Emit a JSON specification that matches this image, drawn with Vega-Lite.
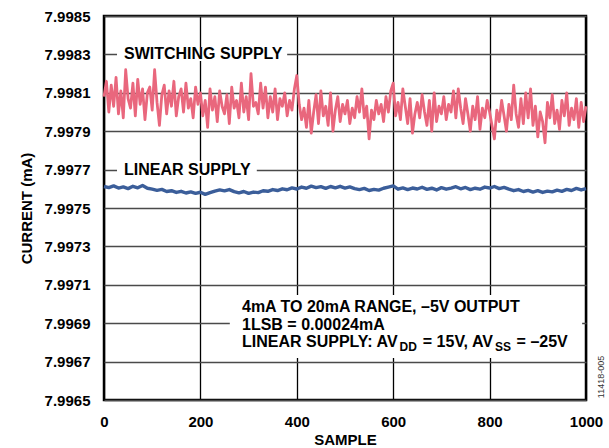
{
  "$schema": "https://vega.github.io/schema/vega-lite/v6.json",
  "width": 482,
  "height": 384,
  "autosize": "none",
  "padding": {"left": 104, "top": 16, "right": 23, "bottom": 48},
  "background": "white",
  "datasets": {
    "switching": [
      {"sample":0,"current":7.99808},{"sample":5,"current":7.99816},{"sample":10,"current":7.998},{"sample":15,"current":7.99814},
      {"sample":20,"current":7.99803},{"sample":25,"current":7.99818},{"sample":30,"current":7.99799},{"sample":35,"current":7.99811},
      {"sample":40,"current":7.99797},{"sample":45,"current":7.99822},{"sample":50,"current":7.99807},{"sample":55,"current":7.99802},
      {"sample":60,"current":7.99815},{"sample":65,"current":7.99798},{"sample":70,"current":7.99817},{"sample":75,"current":7.99804},
      {"sample":80,"current":7.99812},{"sample":85,"current":7.99796},{"sample":90,"current":7.9981},{"sample":95,"current":7.99813},
      {"sample":100,"current":7.99801},{"sample":105,"current":7.99822},{"sample":110,"current":7.99805},{"sample":115,"current":7.99793},
      {"sample":120,"current":7.99809},{"sample":125,"current":7.99814},{"sample":130,"current":7.99799},{"sample":135,"current":7.99811},
      {"sample":140,"current":7.99803},{"sample":145,"current":7.99816},{"sample":150,"current":7.99798},{"sample":155,"current":7.99808},
      {"sample":160,"current":7.99812},{"sample":165,"current":7.998},{"sample":170,"current":7.99815},{"sample":175,"current":7.99802},
      {"sample":180,"current":7.99807},{"sample":185,"current":7.99797},{"sample":190,"current":7.99813},{"sample":195,"current":7.99804},
      {"sample":200,"current":7.9981},{"sample":205,"current":7.99798},{"sample":210,"current":7.99806},{"sample":215,"current":7.99792},
      {"sample":220,"current":7.99812},{"sample":225,"current":7.99801},{"sample":230,"current":7.99808},{"sample":235,"current":7.99795},
      {"sample":240,"current":7.99811},{"sample":245,"current":7.99803},{"sample":250,"current":7.99799},{"sample":255,"current":7.99809},
      {"sample":260,"current":7.99794},{"sample":265,"current":7.99813},{"sample":270,"current":7.99802},{"sample":275,"current":7.99806},
      {"sample":280,"current":7.99797},{"sample":285,"current":7.99815},{"sample":290,"current":7.998},{"sample":295,"current":7.99808},
      {"sample":300,"current":7.99796},{"sample":305,"current":7.9982},{"sample":310,"current":7.99803},{"sample":315,"current":7.99805},
      {"sample":320,"current":7.99799},{"sample":325,"current":7.99815},{"sample":330,"current":7.99802},{"sample":335,"current":7.99813},
      {"sample":340,"current":7.99797},{"sample":345,"current":7.99808},{"sample":350,"current":7.998},{"sample":355,"current":7.99812},
      {"sample":360,"current":7.99796},{"sample":365,"current":7.99807},{"sample":370,"current":7.99803},{"sample":375,"current":7.9981},
      {"sample":380,"current":7.99798},{"sample":385,"current":7.99806},{"sample":390,"current":7.99801},{"sample":395,"current":7.99812},
      {"sample":400,"current":7.99819},{"sample":405,"current":7.99804},{"sample":410,"current":7.99796},{"sample":415,"current":7.99802},
      {"sample":420,"current":7.99792},{"sample":425,"current":7.99806},{"sample":430,"current":7.99789},{"sample":435,"current":7.998},
      {"sample":440,"current":7.99809},{"sample":445,"current":7.99794},{"sample":450,"current":7.99811},{"sample":455,"current":7.99798},
      {"sample":460,"current":7.99803},{"sample":465,"current":7.99793},{"sample":470,"current":7.9981},{"sample":475,"current":7.9979},
      {"sample":480,"current":7.99801},{"sample":485,"current":7.99808},{"sample":490,"current":7.99795},{"sample":495,"current":7.99804},
      {"sample":500,"current":7.99799},{"sample":505,"current":7.99806},{"sample":510,"current":7.99794},{"sample":515,"current":7.99802},
      {"sample":520,"current":7.99797},{"sample":525,"current":7.99808},{"sample":530,"current":7.998},{"sample":535,"current":7.99812},
      {"sample":540,"current":7.99797},{"sample":545,"current":7.99803},{"sample":550,"current":7.99786},{"sample":555,"current":7.99801},
      {"sample":560,"current":7.99796},{"sample":565,"current":7.99806},{"sample":570,"current":7.99799},{"sample":575,"current":7.99804},
      {"sample":580,"current":7.99795},{"sample":585,"current":7.99808},{"sample":590,"current":7.998},{"sample":595,"current":7.99811},
      {"sample":600,"current":7.99815},{"sample":605,"current":7.99798},{"sample":610,"current":7.99805},{"sample":615,"current":7.99796},
      {"sample":620,"current":7.99812},{"sample":625,"current":7.99803},{"sample":630,"current":7.99794},{"sample":635,"current":7.99807},
      {"sample":640,"current":7.99789},{"sample":645,"current":7.99799},{"sample":650,"current":7.99805},{"sample":655,"current":7.99797},
      {"sample":660,"current":7.99809},{"sample":665,"current":7.998},{"sample":670,"current":7.99793},{"sample":675,"current":7.99806},
      {"sample":680,"current":7.9979},{"sample":685,"current":7.9981},{"sample":690,"current":7.99795},{"sample":695,"current":7.99803},
      {"sample":700,"current":7.99799},{"sample":705,"current":7.99808},{"sample":710,"current":7.99796},{"sample":715,"current":7.99804},
      {"sample":720,"current":7.998},{"sample":725,"current":7.99811},{"sample":730,"current":7.99797},{"sample":735,"current":7.99812},
      {"sample":740,"current":7.99802},{"sample":745,"current":7.99794},{"sample":750,"current":7.99807},{"sample":755,"current":7.99799},
      {"sample":760,"current":7.9979},{"sample":765,"current":7.99803},{"sample":770,"current":7.99796},{"sample":775,"current":7.99808},
      {"sample":780,"current":7.99791},{"sample":785,"current":7.99802},{"sample":790,"current":7.99797},{"sample":795,"current":7.99806},
      {"sample":800,"current":7.998},{"sample":805,"current":7.99793},{"sample":810,"current":7.99786},{"sample":815,"current":7.99801},
      {"sample":820,"current":7.99795},{"sample":825,"current":7.99806},{"sample":830,"current":7.99798},{"sample":835,"current":7.9979},
      {"sample":840,"current":7.99804},{"sample":845,"current":7.99796},{"sample":850,"current":7.99814},{"sample":855,"current":7.99799},
      {"sample":860,"current":7.99792},{"sample":865,"current":7.99807},{"sample":870,"current":7.99794},{"sample":875,"current":7.9981},
      {"sample":880,"current":7.99797},{"sample":885,"current":7.99812},{"sample":890,"current":7.99793},{"sample":895,"current":7.99803},
      {"sample":900,"current":7.99787},{"sample":905,"current":7.998},{"sample":910,"current":7.99795},{"sample":915,"current":7.99784},
      {"sample":920,"current":7.99805},{"sample":925,"current":7.99797},{"sample":930,"current":7.99809},{"sample":935,"current":7.99794},
      {"sample":940,"current":7.99801},{"sample":945,"current":7.99791},{"sample":950,"current":7.99806},{"sample":955,"current":7.99798},
      {"sample":960,"current":7.9981},{"sample":965,"current":7.99793},{"sample":970,"current":7.99802},{"sample":975,"current":7.99796},
      {"sample":980,"current":7.99807},{"sample":985,"current":7.99792},{"sample":990,"current":7.99805},{"sample":995,"current":7.99795},
      {"sample":1000,"current":7.99803}
    ],
    "linear": [
      {"sample":0,"current":7.997612},{"sample":10,"current":7.997606},{"sample":20,"current":7.997615},{"sample":30,"current":7.997604},
      {"sample":40,"current":7.99761},{"sample":50,"current":7.997601},{"sample":60,"current":7.997613},{"sample":70,"current":7.997605},
      {"sample":80,"current":7.997617},{"sample":90,"current":7.997603},{"sample":100,"current":7.997598},{"sample":110,"current":7.997592},
      {"sample":120,"current":7.997597},{"sample":130,"current":7.997586},{"sample":140,"current":7.99759},{"sample":150,"current":7.997581},
      {"sample":160,"current":7.997587},{"sample":170,"current":7.997578},{"sample":180,"current":7.997584},{"sample":190,"current":7.997576},
      {"sample":200,"current":7.997582},{"sample":210,"current":7.997571},{"sample":220,"current":7.99758},{"sample":230,"current":7.997588},
      {"sample":240,"current":7.997594},{"sample":250,"current":7.997589},{"sample":260,"current":7.997596},{"sample":270,"current":7.997585},
      {"sample":280,"current":7.997579},{"sample":290,"current":7.997586},{"sample":300,"current":7.997576},{"sample":310,"current":7.997583},
      {"sample":320,"current":7.99758},{"sample":330,"current":7.99759},{"sample":340,"current":7.997587},{"sample":350,"current":7.997596},
      {"sample":360,"current":7.997591},{"sample":370,"current":7.9976},{"sample":380,"current":7.997595},{"sample":390,"current":7.997605},
      {"sample":400,"current":7.997599},{"sample":410,"current":7.997609},{"sample":420,"current":7.997603},{"sample":430,"current":7.997614},
      {"sample":440,"current":7.997606},{"sample":450,"current":7.997611},{"sample":460,"current":7.997602},{"sample":470,"current":7.997612},
      {"sample":480,"current":7.997605},{"sample":490,"current":7.997613},{"sample":500,"current":7.997604},{"sample":510,"current":7.99761},
      {"sample":520,"current":7.997601},{"sample":530,"current":7.997596},{"sample":540,"current":7.997602},{"sample":550,"current":7.997591},
      {"sample":560,"current":7.997597},{"sample":570,"current":7.997593},{"sample":580,"current":7.997603},{"sample":590,"current":7.997609},
      {"sample":600,"current":7.997615},{"sample":610,"current":7.997598},{"sample":620,"current":7.997605},{"sample":630,"current":7.997596},
      {"sample":640,"current":7.997604},{"sample":650,"current":7.997599},{"sample":660,"current":7.997608},{"sample":670,"current":7.997597},
      {"sample":680,"current":7.997603},{"sample":690,"current":7.997594},{"sample":700,"current":7.997606},{"sample":710,"current":7.997598},
      {"sample":720,"current":7.997604},{"sample":730,"current":7.997611},{"sample":740,"current":7.9976},{"sample":750,"current":7.997607},
      {"sample":760,"current":7.997596},{"sample":770,"current":7.997603},{"sample":780,"current":7.997598},{"sample":790,"current":7.997609},
      {"sample":800,"current":7.997604},{"sample":810,"current":7.997612},{"sample":820,"current":7.997601},{"sample":830,"current":7.997607},
      {"sample":840,"current":7.997598},{"sample":850,"current":7.99759},{"sample":860,"current":7.997596},{"sample":870,"current":7.997586},
      {"sample":880,"current":7.997592},{"sample":890,"current":7.997583},{"sample":900,"current":7.99759},{"sample":910,"current":7.997581},
      {"sample":920,"current":7.997588},{"sample":930,"current":7.997584},{"sample":940,"current":7.997593},{"sample":950,"current":7.997587},
      {"sample":960,"current":7.997597},{"sample":970,"current":7.997591},{"sample":980,"current":7.997602},{"sample":990,"current":7.997594},
      {"sample":1000,"current":7.997601}
    ]
  },
  "layer": [
    {
      "data": {"name": "switching"},
      "mark": {"type": "line", "color": "#E9677D", "strokeWidth": 2.8, "strokeJoin": "round"},
      "encoding": {
        "x": {
          "field": "sample", "type": "quantitative",
          "scale": {"domain": [0, 1000], "nice": false},
          "axis": {"title": "SAMPLE", "values": [0, 200, 400, 600, 800, 1000], "tickCount": 20, "format": "d", "gridColor": "#000000"}
        },
        "y": {
          "field": "current", "type": "quantitative",
          "scale": {"domain": [7.9965, 7.9985], "nice": false, "zero": false},
          "axis": {
            "title": "CURRENT (mA)",
            "values": [7.9965, 7.9967, 7.9969, 7.9971, 7.9973, 7.9975, 7.9977, 7.9979, 7.9981, 7.9983, 7.9985],
            "tickCount": 20,
            "format": ".4f", "gridColor": "#4a4a4a"
          }
        }
      }
    },
    {
      "data": {"name": "linear"},
      "mark": {"type": "line", "color": "#3B5E9A", "strokeWidth": 3.4, "strokeJoin": "round"},
      "encoding": {
        "x": {"field": "sample", "type": "quantitative"},
        "y": {"field": "current", "type": "quantitative"}
      }
    },
    {
      "data": {"values": [{}]},
      "mark": {"type": "rect", "fill": "white"},
      "encoding": {
        "x": {"datum": 27}, "x2": {"datum": 380},
        "y": {"datum": 7.998339}, "y2": {"datum": 7.998266}
      }
    },
    {
      "data": {"values": [{}]},
      "mark": {"type": "rect", "fill": "white"},
      "encoding": {
        "x": {"datum": 27}, "x2": {"datum": 317},
        "y": {"datum": 7.997745}, "y2": {"datum": 7.997667}
      }
    },
    {
      "data": {"values": [{}]},
      "mark": {"type": "rect", "fill": "white"},
      "encoding": {
        "x": {"datum": 261}, "x2": {"datum": 992},
        "y": {"datum": 7.997047}, "y2": {"datum": 7.996719}
      }
    },
    {
      "data": {"values": [{}]},
      "mark": {"type": "text", "text": "SWITCHING SUPPLY", "align": "left", "baseline": "middle"},
      "encoding": {"x": {"datum": 41.5}, "y": {"datum": 7.9983}}
    },
    {
      "data": {"values": [{}]},
      "mark": {"type": "text", "text": "LINEAR SUPPLY", "align": "left", "baseline": "middle"},
      "encoding": {"x": {"datum": 41.5}, "y": {"datum": 7.9977}}
    },
    {
      "data": {"values": [{}]},
      "mark": {"type": "text", "text": "4mA TO 20mA RANGE, \u20135V OUTPUT", "align": "left", "baseline": "alphabetic"},
      "encoding": {"x": {"datum": 286.3}, "y": {"datum": 7.99696}}
    },
    {
      "data": {"values": [{}]},
      "mark": {"type": "text", "text": "1LSB = 0.00024mA", "align": "left", "baseline": "alphabetic"},
      "encoding": {"x": {"datum": 286.3}, "y": {"datum": 7.996865}}
    },
    {
      "data": {"values": [{}]},
      "mark": {"type": "text", "text": "LINEAR SUPPLY: AV", "align": "left", "baseline": "alphabetic"},
      "encoding": {"x": {"datum": 286.3}, "y": {"datum": 7.996778}}
    },
    {
      "data": {"values": [{}]},
      "mark": {"type": "text", "text": "DD", "align": "left", "baseline": "alphabetic", "fontSize": 12, "dx": 157.5, "dy": 4},
      "encoding": {"x": {"datum": 286.3}, "y": {"datum": 7.996778}}
    },
    {
      "data": {"values": [{}]},
      "mark": {"type": "text", "text": "= 15V, AV", "align": "left", "baseline": "alphabetic", "dx": 180.8},
      "encoding": {"x": {"datum": 286.3}, "y": {"datum": 7.996778}}
    },
    {
      "data": {"values": [{}]},
      "mark": {"type": "text", "text": "SS", "align": "left", "baseline": "alphabetic", "fontSize": 12, "dx": 253, "dy": 4},
      "encoding": {"x": {"datum": 286.3}, "y": {"datum": 7.996778}}
    },
    {
      "data": {"values": [{}]},
      "mark": {"type": "text", "text": "= \u201325V", "align": "left", "baseline": "alphabetic", "dx": 274.6},
      "encoding": {"x": {"datum": 286.3}, "y": {"datum": 7.996778}}
    },
    {
      "data": {"values": [{}]},
      "mark": {"type": "text", "text": "11418-005", "angle": 270, "align": "center", "baseline": "middle", "fontSize": 9, "fontWeight": "normal", "color": "#333333"},
      "encoding": {"x": {"datum": 1031}, "y": {"datum": 7.99662}}
    }
  ],
  "config": {
    "font": "Liberation Sans",
    "view": {"stroke": "#000000", "strokeWidth": 2.5},
    "text": {"font": "Liberation Sans", "fontSize": 16, "fontWeight": "bold", "color": "#000000"},
    "axis": {
      "domain": false,
      "ticks": false,
      "tickSize": 0,
      "grid": true,
      "gridWidth": 1.3,
      "gridOpacity": 1,
      "labelFont": "Liberation Sans",
      "labelFontSize": 15,
      "labelFontWeight": "bold",
      "labelColor": "#000000",
      "labelFlush": false,
      "labelOverlap": false,
      "titleFont": "Liberation Sans",
      "titleFontSize": 15,
      "titleFontWeight": "bold",
      "titleColor": "#000000"
    },
    "axisX": {"labelPadding": 14, "titlePadding": 3},
    "axisY": {"labelPadding": 14, "titlePadding": 10}
  }
}
